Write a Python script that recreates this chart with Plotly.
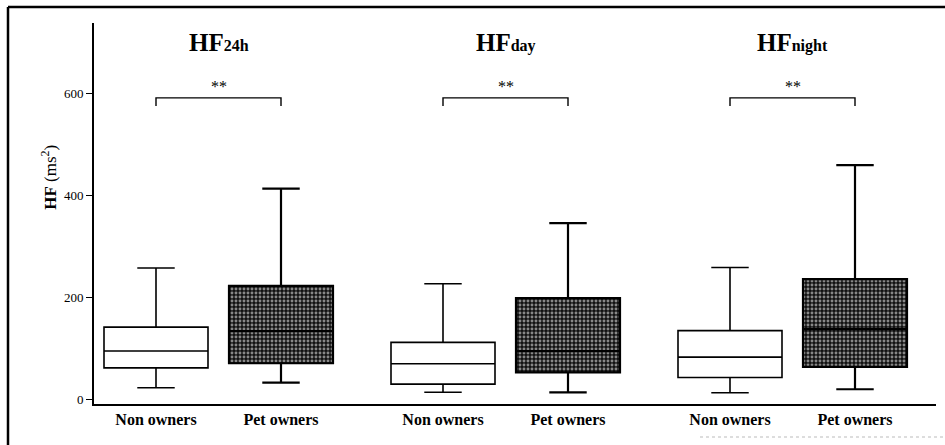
import plotly.graph_objects as go

# ---------------- data ----------------
groups = ["24h", "day", "night"]
members = ["Non owners", "Pet owners"]

non_low = [23, 14, 13]
non_q1 = [62, 30, 43]
non_med = [95, 70, 83]
non_q3 = [142, 112, 135]
non_high = [258, 227, 259]

pet_low = [33, 14, 20]
pet_q1 = [71, 53, 64]
pet_med = [134, 95, 138]
pet_q3 = [223, 199, 236]
pet_high = [414, 346, 460]

y_ticks = [0, 200, 400, 600]
sig_labels = ["**", "**", "**"]

# ---------------- layout constants ----------------
W, H = 945, 445
ML, MR, MT, MB = 94, 9, 23, 41
PW, PH = W - ML - MR, H - MT - MB
X0, SPACING, WITHIN, BOX_W = 62, 287, 125, 104
BRACKET_Y, BRACKET_DROP, STAR_Y, TITLE_Y = 592, 16, 614, 700
SERIF = "Liberation Serif"

def px_x(p):
    return (p - ML) / PW

def px_y(p):
    return (H - MB - p) / PH

non_x = [X0 + g * SPACING for g in range(len(groups))]
pet_x = [x + WITHIN for x in non_x]
grp_x = [(a + b) / 2 for a, b in zip(non_x, pet_x)]

fig = go.Figure()

# hatched fill for pet owner boxes (drawn beneath the box outlines)
fig.add_trace(go.Bar(
    x=pet_x,
    base=pet_q1,
    y=[q3 - q1 for q1, q3 in zip(pet_q1, pet_q3)],
    width=BOX_W,
    marker=dict(color="black", line=dict(width=0),
                pattern=dict(shape=".", fgcolor="white", bgcolor="#111111",
                             size=4, solidity=0.42)),
    hoverinfo="skip", showlegend=False,
))

fig.add_trace(go.Box(
    x=non_x, q1=non_q1, median=non_med, q3=non_q3,
    lowerfence=non_low, upperfence=non_high,
    width=BOX_W, whiskerwidth=0.36, boxpoints=False,
    fillcolor="white", line=dict(color="black", width=1.6),
    name=members[0], showlegend=False,
))
fig.add_trace(go.Box(
    x=pet_x, q1=pet_q1, median=pet_med, q3=pet_q3,
    lowerfence=pet_low, upperfence=pet_high,
    width=BOX_W, whiskerwidth=0.36, boxpoints=False,
    fillcolor="rgba(0,0,0,0)", line=dict(color="black", width=2.2),
    name=members[1], showlegend=False,
))

shapes = []
annotations = []
for i, g in enumerate(groups):
    x1, x2 = non_x[i], pet_x[i]
    shapes.append(dict(
        type="path", xref="x", yref="y",
        path=f"M {x1},{BRACKET_Y - BRACKET_DROP} L {x1},{BRACKET_Y} "
             f"L {x2},{BRACKET_Y} L {x2},{BRACKET_Y - BRACKET_DROP}",
        line=dict(color="black", width=1.4),
    ))
    annotations.append(dict(
        x=grp_x[i], y=STAR_Y, xref="x", yref="y", text=sig_labels[i],
        showarrow=False, font=dict(family=SERIF, size=16, color="black"),
    ))
    annotations.append(dict(
        x=grp_x[i], y=TITLE_Y, xref="x", yref="y",
        text=f"<b>HF</b><span style='font-size:16px'><b>{g}</b></span>",
        showarrow=False, font=dict(family=SERIF, size=25, color="black"),
    ))

# y-axis title
annotations.append(dict(
    x=px_x(36), y=435, xref="paper", yref="y",
    text="<b>HF</b> (ms<sup>2</sup>)", textangle=-90, showarrow=False,
    font=dict(family=SERIF, size=17, color="black"),
))

# scanned figure frame
shapes += [
    dict(type="line", xref="paper", yref="paper",
         x0=px_x(8), x1=px_x(W), y0=px_y(7), y1=px_y(7),
         line=dict(color="black", width=2.5)),
    dict(type="line", xref="paper", yref="paper",
         x0=px_x(8), x1=px_x(8), y0=px_y(7), y1=px_y(H),
         line=dict(color="black", width=2.5)),
    dict(type="line", xref="paper", yref="paper",
         x0=px_x(700), x1=px_x(W), y0=px_y(437), y1=px_y(437),
         line=dict(color="#bbbbbb", width=1, dash="dot")),
]

fig.update_layout(
    width=W, height=H,
    margin=dict(l=ML, r=MR, t=MT, b=MB),
    paper_bgcolor="white", plot_bgcolor="white",
    boxmode="overlay", barmode="overlay",
    shapes=shapes, annotations=annotations,
    font=dict(family=SERIF, color="black"),
)
fig.update_xaxes(
    range=[0, PW], showgrid=False, zeroline=False,
    showline=True, linecolor="black", linewidth=1.6,
    tickvals=non_x + pet_x,
    ticktext=[members[0]] * len(groups) + [members[1]] * len(groups),
    ticks="", tickfont=dict(family=SERIF, size=16, color="black", weight="bold"),
)
fig.update_yaxes(
    range=[-9, 739], showgrid=False, zeroline=False,
    showline=True, linecolor="black", linewidth=1.6,
    tickvals=y_ticks, ticks="outside", ticklen=6, tickwidth=1.4,
    tickcolor="black", tickfont=dict(family=SERIF, size=13, color="black"),
)

fig.write_html("out.html")
